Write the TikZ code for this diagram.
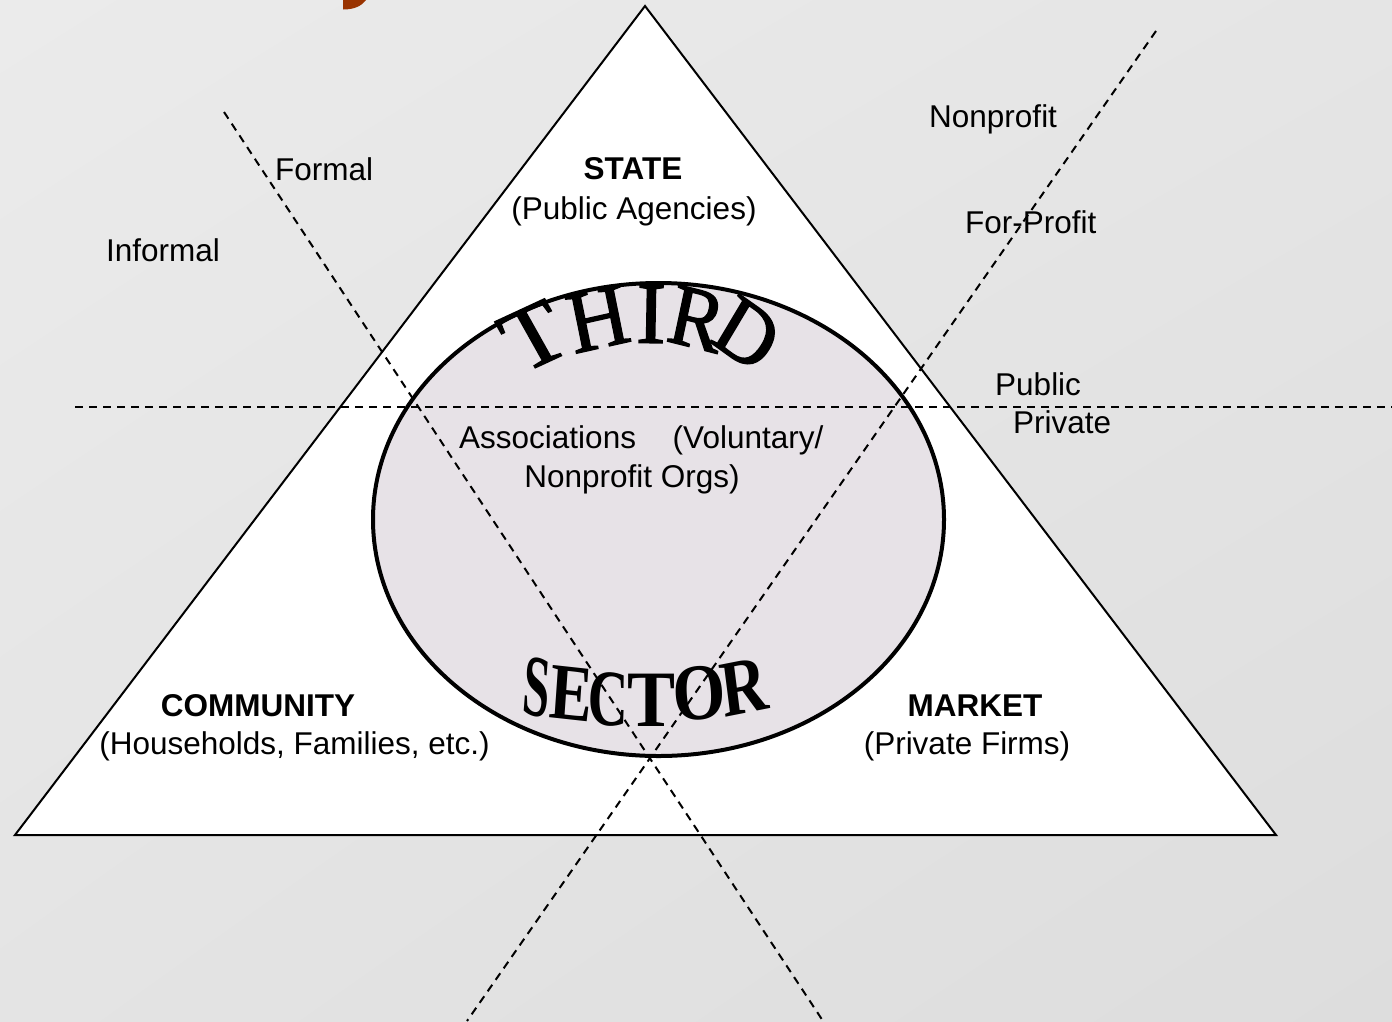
\documentclass[tikz,border=0pt]{standalone}
\usepackage{fontspec}
\usetikzlibrary{shadings,shapes.geometric}
\setmainfont{Liberation Sans}
\newfontfamily\wafamily{Liberation Serif}
\newfontfamily\wafamilyheavy[FakeBold=1.6]{Liberation Serif}
\definecolor{bgUL}{RGB}{235,235,235}
\definecolor{bgUR}{RGB}{229,229,229}
\definecolor{bgLL}{RGB}{228,228,228}
\definecolor{bgLR}{RGB}{221,221,221}
\definecolor{ellfill}{RGB}{231,226,231}
\definecolor{titlebrown}{RGB}{153,51,0}
\tikzset{
  lbl/.style={font=\fontsize{31.5}{36}\selectfont, inner sep=0pt},
  blbl/.style={font=\fontsize{31.5}{36}\selectfont\bfseries, inner sep=0pt},
  wathird/.style={font=\fontsize{88}{90}\selectfont\wafamilyheavy, inner sep=0pt},
  wasector/.style={font=\fontsize{80}{90}\selectfont\wafamily\bfseries, inner sep=0pt},
  divider/.style={draw=black, line width=2pt, dash pattern=on 8pt off 6pt},
  tri/.style={draw=black, fill=white, line width=2pt, line join=miter},
  circ/.style={draw=black, fill=ellfill, line width=4pt}
}
\begin{document}
\begin{tikzpicture}[x=1pt,y=-1pt]
\useasboundingbox (0,0) rectangle (1392,1021);
\shade[upper left=bgUL, upper right=bgUR, lower left=bgLL, lower right=bgLR] (0,0) rectangle (1392,1021);
% partial title glyph
\fill[titlebrown] (343,0) -- (343,9.5) .. controls (355,9.5) and (362,5.5) .. (366,0) -- cycle;
% triangle
\coordinate (apex) at (645,6);
\coordinate (bl) at (15,835);
\coordinate (br) at (1276,835);
\draw[tri] (apex) -- (bl) -- (br) -- cycle;
% third sector ellipse
\node[circ, ellipse, minimum width=571pt, minimum height=473pt, inner sep=0pt] (ell) at (658.5,519.5) {};
% words of the ellipse
\node[wathird, xscale=1.1, rotate=27] (tT) at (534,336) {T};
\node[wathird, xscale=0.95, rotate=12] (tH) at (598,319) {H};
\node[wathird, xscale=1.0, rotate=-1] (tI) at (651,314) {I};
\node[wathird, xscale=0.92, rotate=-13] (tR) at (697,319) {R};
\node[wathird, xscale=0.92, rotate=-33] (tD) at (747,334) {D};
\node[wasector, xscale=0.6, yscale=1.1, rotate=-8] (sS) at (537,687) {S};
\node[wasector, xscale=0.8, rotate=-5] (sE) at (572,694) {E};
\node[wasector, xscale=0.7, rotate=-2] (sC) at (608,699) {C};
\node[wasector, xscale=0.9, rotate=0] (sT) at (652,700) {T};
\node[wasector, xscale=0.85, rotate=4] (sO) at (699,693) {O};
\node[wasector, xscale=0.8, rotate=9] (sR) at (744,687) {R};
% dashed dividers
\coordinate (h1) at (75,407);
\coordinate (h2) at (1392,407);
\coordinate (a1) at (224,112);
\coordinate (a2) at (823,1021);
\coordinate (b1) at (1156,31);
\coordinate (b2) at (467,1021);
\draw[divider] (h1) -- (h2);
\draw[divider] (a1) -- (a2);
\draw[divider] (b1) -- (b2);
% labels
\node[lbl, anchor=base west] (formal) at (275,180) {Formal};
\node[lbl, anchor=base west] (informal) at (106,261) {Informal};
\node[blbl, anchor=base] (state) at (633,179) {STATE};
\node[lbl, anchor=base] (agencies) at (634,219) {(Public Agencies)};
\node[lbl, anchor=base west] (nonprofit) at (929,127) {Nonprofit};
\node[lbl, anchor=base west] (forprofit) at (965,233) {For-Profit};
\node[lbl, anchor=base west] (public) at (995,395) {Public};
\node[lbl, anchor=base west] (private) at (1013,433) {Private};
\node[lbl, anchor=base west] (assoc1) at (459,448) {Associations\hspace{28pt} (Voluntary/};
\node[lbl, anchor=base] (assoc2) at (632,487) {Nonprofit Orgs)};
\node[blbl, anchor=base] (community) at (258,716) {COMMUNITY};
\node[lbl, anchor=base] (households) at (294.5,754) {(Households, Families, etc.)};
\node[blbl, anchor=base] (market) at (975,716) {MARKET};
\node[lbl, anchor=base] (firms) at (967,754) {(Private Firms)};
\end{tikzpicture}
\end{document}
